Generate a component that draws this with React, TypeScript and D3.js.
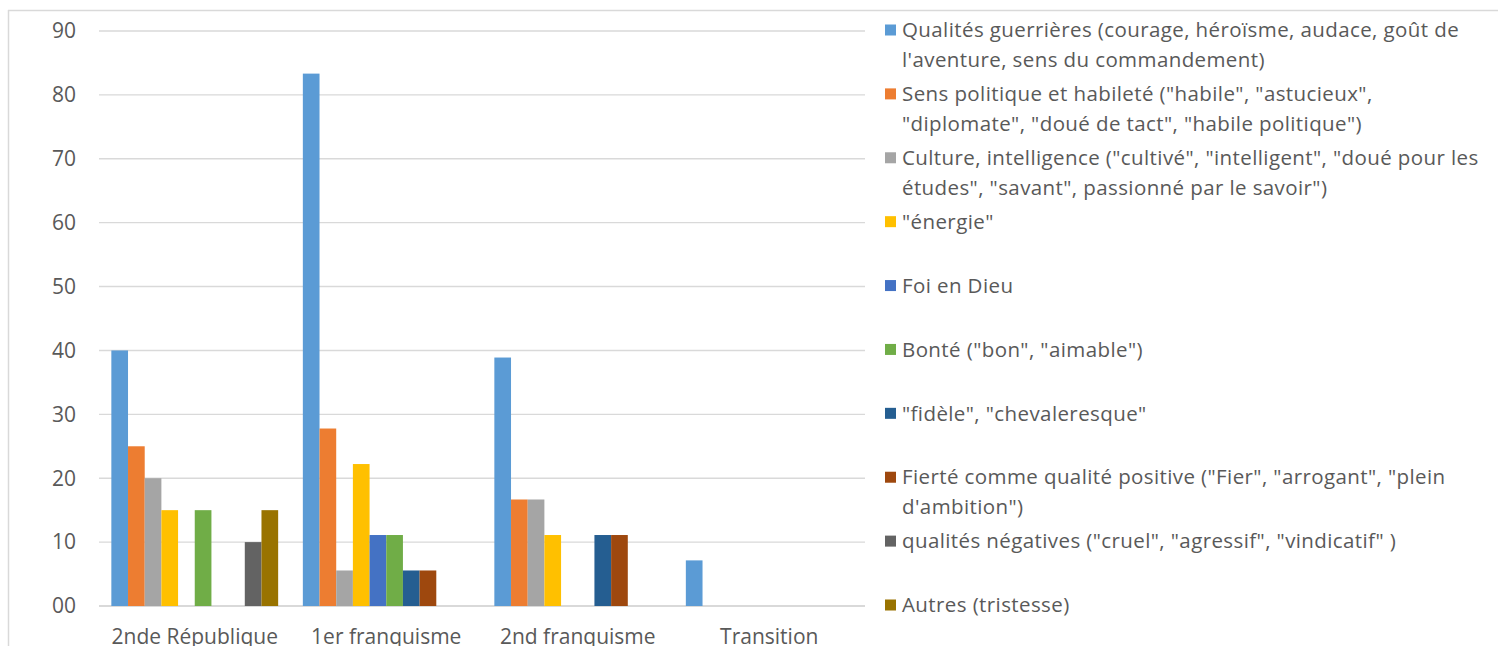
import React from "react";
import * as d3 from "d3";

const categories = ["2nde République", "1er franquisme", "2nd franquisme", "Transition"];

const seriesNames = [
  ["Qualités guerrières (courage, héroïsme, audace, goût de", "l'aventure, sens du commandement)"],
  ["Sens politique et habileté (\"habile\", \"astucieux\",", "\"diplomate\", \"doué de tact\", \"habile politique\")"],
  ["Culture, intelligence (\"cultivé\", \"intelligent\", \"doué pour les", "études\", \"savant\", passionné par le savoir\")"],
  ["\"énergie\""],
  ["Foi en Dieu"],
  ["Bonté (\"bon\", \"aimable\")"],
  ["\"fidèle\", \"chevaleresque\""],
  ["Fierté comme qualité positive (\"Fier\", \"arrogant\", \"plein", "d'ambition\")"],
  ["qualités négatives (\"cruel\", \"agressif\", \"vindicatif\" )"],
  ["Autres (tristesse)"],
];

const seriesColors = [
  "#5B9BD5", "#ED7D31", "#A5A5A5", "#FFC000", "#4472C4",
  "#70AD47", "#255E91", "#9E480E", "#636363", "#997300",
];

// values per series, across categories
const qualitesGuerrieres = [40, 83.33, 38.89, 7.14];
const sensPolitique = [25, 27.78, 16.67, 0];
const culture = [20, 5.56, 16.67, 0];
const energie = [15, 22.22, 11.11, 0];
const foiEnDieu = [0, 11.11, 0, 0];
const bonte = [15, 11.11, 0, 0];
const fidele = [0, 5.56, 11.11, 0];
const fierte = [0, 5.56, 11.11, 0];
const negatives = [10, 0, 0, 0];
const autres = [15, 0, 0, 0];

const seriesValues = [
  qualitesGuerrieres, sensPolitique, culture, energie, foiEnDieu,
  bonte, fidele, fierte, negatives, autres,
];

const yTicks = [0, 10, 20, 30, 40, 50, 60, 70, 80, 90];
const yTickLabels = ["00", "10", "20", "30", "40", "50", "60", "70", "80", "90"];

const W = 1498;
const H = 646;
const plotLeft = 99;
const plotRight = 865;
const plotTop = 31;
const plotBottom = 606;
const FONT = "'Open Sans', 'Noto Sans', sans-serif";
const TEXT = "#595959";
const GRID = "#D9D9D9";

export default function App() {
  const y = d3.scaleLinear().domain([0, 90]).range([plotBottom, plotTop]);
  const x0 = d3.scaleBand<string>().domain(categories).range([plotLeft, plotRight]).padding(0);
  const x1 = d3
    .scaleBand<number>()
    .domain(d3.range(seriesValues.length))
    .range([0, x0.bandwidth()])
    .paddingInner(0)
    .paddingOuter(0.74);

  const legendX = 885;
  const legendTextX = 902;
  const lineH = 30;

  return (
    <svg
      width={W}
      height={H}
      style={{ position: "absolute", left: 0, top: 0, background: "#fff" }}
      fontFamily={FONT}
    >
      <rect x={0} y={0} width={W} height={H} fill="#fff" />
      {/* chart frame */}
      <line x1={8.5} x2={8.5} y1={10} y2={H} stroke={GRID} strokeWidth={1.5} />
      <line x1={8} x2={W} y1={10.5} y2={10.5} stroke={GRID} strokeWidth={1.5} />

      {/* gridlines */}
      {yTicks.map((t) => (
        <line
          key={"g" + t}
          x1={plotLeft}
          x2={plotRight}
          y1={y(t)}
          y2={y(t)}
          stroke={GRID}
          strokeWidth={t === 0 ? 2 : 1.4}
        />
      ))}

      {/* y tick labels */}
      {yTicks.map((t, i) => (
        <text
          key={"yl" + t}
          x={76}
          y={y(t)}
          dy="0.35em"
          textAnchor="end"
          fontSize={21}
          fill={TEXT}
        >
          {yTickLabels[i]}
        </text>
      ))}

      {/* bars */}
      {categories.map((c, ci) => (
        <g key={c} transform={`translate(${x0(c)},0)`}>
          {seriesValues.map((vals, si) =>
            vals[ci] > 0 ? (
              <rect
                key={si}
                x={x1(si)}
                y={y(vals[ci])}
                width={x1.bandwidth()}
                height={y(0) - y(vals[ci])}
                fill={seriesColors[si]}
              />
            ) : null
          )}
        </g>
      ))}

      {/* category labels */}
      {categories.map((c) => (
        <text
          key={"cl" + c}
          x={(x0(c) as number) + x0.bandwidth() / 2}
          y={644}
          textAnchor="middle"
          fontSize={21}
          fill={TEXT}
        >
          {c}
        </text>
      ))}

      {/* legend */}
      {seriesNames.map((lines, si) => {
        const cy = y(yTicks[yTicks.length - 1 - si]) - 1;
        return (
          <g key={"lg" + si}>
            <rect x={legendX} y={cy - 5.5} width={11} height={11} fill={seriesColors[si]} />
            {lines.map((ln, li) => (
              <text
                key={li}
                x={legendTextX}
                y={cy + li * lineH}
                dy="0.35em"
                fontSize={20.5}
                letterSpacing={0.4}
                fill={TEXT}
              >
                {ln}
              </text>
            ))}
          </g>
        );
      })}
    </svg>
  );
}
